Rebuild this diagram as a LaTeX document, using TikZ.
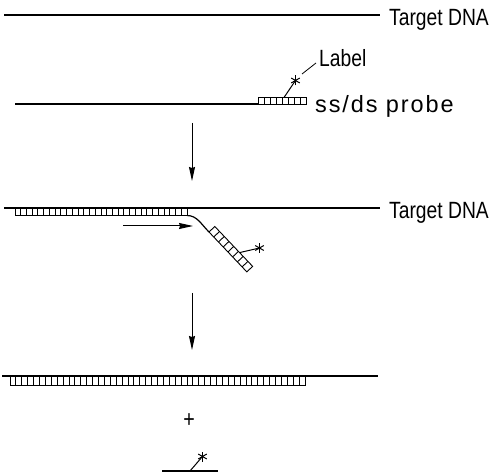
\documentclass[tikz,border=0pt]{standalone}
\usepackage{fontspec}
\setmainfont[FakeStretch=0.82]{Liberation Sans}
\newfontfamily\spacedfont[LetterSpace=8]{Liberation Sans}
\usetikzlibrary{arrows.meta}
\tikzset{
  strand/.style={line width=1.2pt},
  cellbox/.style={line width=0.9pt},
  lbl/.style={font=\fontsize{23.5}{26}\selectfont, inner sep=0pt, anchor=base west},
  flow/.style={line width=1pt, -{Stealth[length=14pt,width=6pt,inset=1pt]}},
  starline/.style={line width=1pt}
}
\newcommand\cellrow[5]{% x1,y1,x2,y2,n
  \draw[cellbox] (#1,#2) rectangle (#3,#4);
  \foreach \k in {1,...,\numexpr#5-1\relax}{
    \draw[cellbox] ({#1+(#3-#1)*\k/#5},#2) -- ({#1+(#3-#1)*\k/#5},#4);
  }
}
\newcommand\astar[1]{% center
  \foreach \a in {90,30,150}{
    \draw[starline] (#1) ++(\a:5) -- ++(\a+180:10);
  }
}
\begin{document}
\begin{tikzpicture}[x=1pt,y=-1pt]
\useasboundingbox (0,0) rectangle (496,473);

% ---------- top section
\draw[strand] (4,15) -- (380,15);
\node[lbl] (t1) at (389,26) {Target DNA};

\draw[strand] (15,104) -- (258,104);
\cellrow{258}{97.5}{306}{104}{8}
\coordinate (s1) at (284,97.5);
\coordinate (st1) at (295.5,80.5);
\draw[starline] (s1) -- (st1);
\astar{st1}
\coordinate (l1) at (302,74);
\coordinate (l2) at (316,63);
\draw[line width=0.8pt] (l1) -- (l2);
\node[lbl] (lab) at (319,66.5) {Label};
\node[lbl, font=\fontsize{23.5}{26}\spacedfont] (probe) at (315,112.5) {ss/ds probe};

\coordinate (a1s) at (192,123);
\coordinate (a1e) at (192,181);
\draw[flow] (a1s) -- (a1e);

% ---------- middle section
\draw[strand] (4,208) -- (380,208);
\node[lbl] (t2) at (389,218.5) {Target DNA};
\cellrow{15}{208}{187}{215.5}{30}
\draw[strand] (187,215.5) .. controls (197,215.5) and (201,224) .. (209,232);
\begin{scope}[shift={(209,232)}, x={(0.688pt,-0.725pt)}, y={(0.725pt,0.688pt)}]
  \draw[cellbox] (0,0) -- (55,0) -- (55,8) -- (0,8) -- cycle;
  \foreach \k in {1,...,7}{\draw[cellbox] ({55*\k/8},0) -- ({55*\k/8},8);}
  \coordinate (s2) at (36,8);
\end{scope}
\coordinate (st2) at (259.5,248);
\draw[starline] (s2) -- (st2);
\astar{st2}

\coordinate (h1) at (123,226);
\coordinate (h2) at (193,226);
\draw[flow] (h1) -- (h2);

\coordinate (a2s) at (192,293);
\coordinate (a2e) at (192,350);
\draw[flow] (a2s) -- (a2e);

% ---------- bottom section
\draw[strand] (2,376) -- (378,376);
\cellrow{10}{376}{305}{385}{50}

\node[font=\fontsize{24}{26}\selectfont, inner sep=0pt] (plus) at (189,421) {+};

\draw[strand] (162,471) -- (218,471);
\coordinate (s3) at (190,471);
\coordinate (st3) at (202.5,456.5);
\draw[starline] (s3) -- (st3);
\astar{st3}
\end{tikzpicture}
\end{document}
